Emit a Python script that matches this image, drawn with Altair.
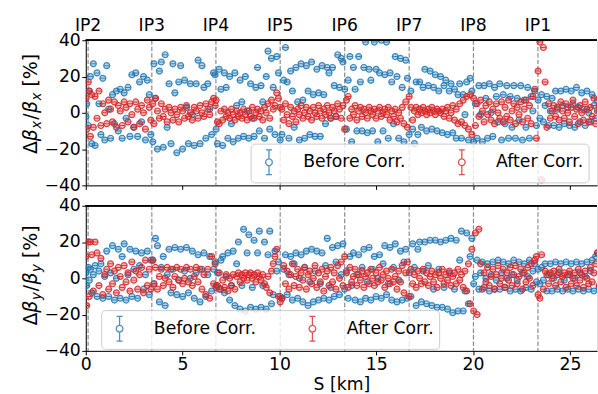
import altair as alt
import pandas as pd

# ---------------- data ----------------
S_KM = [
    0.01, 0.05, 0.13, 0.18, 0.24, 0.31, 0.39, 0.48, 0.58, 0.68, 0.78, 0.88, 0.98, 1.08, 1.18, 1.28, 1.38, 1.48, 1.58, 1.68, 1.78, 1.88, 1.98, 2.08, 2.18, 2.28, 2.38, 2.48, 2.58, 2.68, 2.78, 2.88, 2.98, 3.08, 3.18, 3.28, 3.36,
    3.46, 3.52, 3.60, 3.70, 3.80, 3.90, 4.00, 4.10, 4.20, 4.30, 4.40, 4.50, 4.60, 4.70, 4.80, 4.90, 5.00, 5.10, 5.20, 5.30, 5.40, 5.50, 5.60, 5.70, 5.80, 5.90, 6.00, 6.10, 6.20, 6.30, 6.40, 6.50, 6.60, 6.68, 6.73,
    6.80, 6.89, 6.98, 7.07, 7.16, 7.25, 7.34, 7.43, 7.52, 7.61, 7.70, 7.79, 7.88, 7.97, 8.06, 8.15, 8.24, 8.33, 8.42, 8.51, 8.60, 8.69, 8.78, 8.87, 8.96, 9.05, 9.14, 9.23, 9.32, 9.41, 9.50, 9.59, 9.68, 9.77, 9.86, 9.95, 10.04,
    10.13, 10.22, 10.31, 10.40, 10.49, 10.58, 10.67, 10.76, 10.85, 10.94, 11.03, 11.12, 11.21, 11.30, 11.39, 11.48, 11.57, 11.66, 11.75, 11.84, 11.93, 12.02, 12.11, 12.20, 12.29, 12.38, 12.47, 12.56, 12.65, 12.74, 12.83, 12.92, 13.01, 13.10, 13.19, 13.28, 13.37,
    13.46, 13.55, 13.64, 13.73, 13.82, 13.91, 14.00, 14.09, 14.18, 14.27, 14.36, 14.45, 14.54, 14.63, 14.72, 14.81, 14.90, 14.99, 15.08, 15.17, 15.26, 15.35, 15.44, 15.53, 15.62, 15.71, 15.80, 15.89, 15.98, 16.07, 16.16, 16.25, 16.34, 16.43, 16.52, 16.61, 16.70,
    16.79, 16.88, 16.97, 17.06, 17.15, 17.24, 17.33, 17.42, 17.51, 17.60, 17.69, 17.78, 17.87, 17.96, 18.05, 18.14, 18.23, 18.32, 18.41, 18.50, 18.59, 18.68, 18.77, 18.86, 18.95, 19.04, 19.13, 19.22, 19.31, 19.40, 19.49, 19.58, 19.67, 19.76, 19.85, 19.94, 20.03,
    20.12, 20.21, 20.30, 20.39, 20.48, 20.57, 20.66, 20.75, 20.84, 20.93, 21.02, 21.11, 21.20, 21.29, 21.38, 21.47, 21.56, 21.65, 21.74, 21.83, 21.92, 22.01, 22.10, 22.19, 22.28, 22.37, 22.46, 22.55, 22.64, 22.73, 22.82, 22.91, 23.00, 23.09, 23.18, 23.27, 23.36,
    23.45, 23.54, 23.63, 23.72, 23.81, 23.90, 23.99, 24.08, 24.17, 24.26, 24.35, 24.44, 24.53, 24.62, 24.71, 24.80, 24.89, 24.98, 25.07, 25.16, 25.25, 25.34, 25.43, 25.52, 25.61, 25.70, 25.79, 25.88, 25.97, 26.06, 26.15, 26.24, 26.33, 26.42, 26.51, 26.60,
]

# horizontal beta-beating [%], before correction
DBX_BEFORE = [
    -2, 5, -7, 12, 20, -17, 27, -18, 22, 5, -12, 19, -15, 26, 2, -14, 10, -6, 12, -10, 13, -14, 11, -3, 14, -13, 21, -8, 22, -13, 17, -5, 20, -15, 18, 10, -12,
    -16, 27, 8, -20, 23, 28, -19, 32, -8, 16, -17, 27, 11, -22, 17, 26, -20, 18, 3, -17, 16, -1, -18, 16, 29, -17, 26, 14, -14, 16, 2, -12, 22, 21, -9,
    -17, 24, 13, -18, 22, 14, -14, 20, -6, -16, 22, 4, -14, 18, 6, -13, 20, 1, -14, 16, -3, -13, 14, 25, -10, 15, 6, -14, 20, 34, -9, 30, 14, -12, 31, 22, -15,
    -12, 18, 36, 17, -14, 23, 12, -8, 25, 6, -15, 27, 7, -14, 26, 12, -12, 28, 10, -13, 24, 11, -13, 26, 10, -6, 25, 22, -3, 25, 15, -2, 32, 14, 30, 28, 13,
    -9, 18, 31, -16, 25, 13, -10, 31, 17, -10, 25, 39, -11, 24, 18, -10, 39, 24, -16, 22, 40, -10, 21, 39, -14, 22, 17, -6, 31, 20, -14, 30, 14, -16, 29, 19, -12,
    12, -9, -17, 17, -12, 17, -8, 14, 24, -10, 15, 23, -9, 14, 21, -10, 12, 20, -11, 15, 18, -12, 12, 16, -11, 13, -14, 10, 16, -14, 10, -1, 17, -15, 19, 12, -16,
    5, -14, 15, -1, -16, 15, 8, -14, 16, 0, -13, 14, 9, -5, 16, -15, 10, -6, 15, -14, 9, -8, 15, -14, 8, -4, 15, -15, 7, -8, 14, -14, 9, 1, 12, -7, 7,
    -3, 10, -5, 4, 9, -7, 1, 8, -7, 12, 2, -8, 12, 4, -6, 13, 3, -7, 12, 5, -8, 14, 3, -5, 11, 2, -7, 12, 0, -5, 10, 4, -3, 7, 1, -4,
]
# horizontal beta-beating [%], after correction
DBX_AFTER = [
    8, -9, 17, 12, -13, 10, -8, 9, -3, 12, -7, 5, 0, -6, 7, 2, -5, 6, -8, 4, 1, -7, 6, 3, -5, 5, -1, -8, 6, 2, -6, 4, 0, -9, 7, 3, -4,
    5, -6, 8, 1, -3, 5, -2, 2, -5, 3, 0, -4, 2, -1, -5, 3, 1, -3, 4, -2, 0, -4, 3, 1, -3, 4, 0, -2, 5, 2, -1, 6, 8, 4, 7,
    -5, -6, 1, -4, 2, -2, 0, -3, 2, -1, -4, 1, -2, 0, -3, 2, -1, -4, 1, -2, 3, -3, 0, 2, -2, 1, -4, 3, 0, 5, -3, 7, 2, 4, 11, 8, 3,
    2, -4, 5, -1, -6, 3, -2, 1, -5, 2, -1, 4, -3, 0, 3, -2, 1, -4, 3, 0, -2, 4, 1, -3, 2, -1, 4, 0, -3, 3, 1, -2, 5, 2, -3, 4, -9,
    7, 9, -3, 2, -1, 4, -4, 1, 3, -2, 2, 0, -3, 3, 1, -1, 2, -3, 1, 3, -2, 0, 2, -1, 3, -4, 1, -2, 2, -5, 0, -3, 3, -6, 6, -8, 9,
    3, -4, 1, 3, -1, 2, 0, 3, 1, -1, 2, 0, 3, 1, -1, 2, 1, 0, 2, -2, 1, 3, -3, 0, 4, -4, 2, -6, 5, -5, 7, -7, 9, -9, 10, -12, 8,
    -7, 5, -2, 7, 1, -5, 4, -1, 6, -4, 2, -6, 5, 0, -3, 6, -5, 3, -2, 7, -4, 1, 5, -6, 3, -1, 6, -5, 2, 7, -3, 4, -6, 9, 13, -14, 23,
    39, -37, 36, 17, -8, 5, -3, 1, 4, -2, 3, -4, 6, 1, -3, 5, 0, -5, 3, 7, -2, 2, -6, 4, 0, -4, 6, 2, -5, 3, -2, 8, -6, 1, 4, -3,
]
# vertical beta-beating [%], before correction
DBY_BEFORE = [
    3, -4, 6, -1, 5, -8, 2, 7, -10, 4, 8, -11, 1, 15, -10, 3, 18, -12, 0, 16, -11, 12, 19, -12, 2, 16, -10, 5, 15, -11, 7, 14, -6, 2, 15, -9, 10,
    10, -3, 22, 18, -13, 6, 12, -15, 2, 16, -8, 5, 17, -9, -1, 16, -10, 4, 17, -8, 0, 15, -11, 3, 13, -13, 5, 14, -10, 2, 12, -7, 5, 9, -4,
    3, -6, 10, 12, -8, 1, 14, -12, -4, 15, -15, 8, 20, -17, -4, 27, -18, 14, 24, -16, -5, 21, -17, 14, 26, -16, -4, 20, -17, 13, 26, -14, -9, 15, 4, 9, -10,
    -11, 5, 13, -9, 2, 12, -12, 8, 14, -11, 0, 13, -13, 6, 15, -15, -2, 16, -13, 4, 15, -12, -3, 14, -11, 7, 22, -12, -5, 17, -10, 9, 18, -9, 2, 19, -6,
    4, -11, 12, -4, 14, -12, 2, 13, -13, 6, 16, -11, -2, 17, -12, 5, 12, -10, 0, 13, -11, 8, 18, -9, -3, 17, -12, 6, 19, -13, -1, 15, -12, 9, 16, -11, 3,
    -10, 19, 6, -15, 16, 20, -13, 4, 20, -14, 7, 21, -15, -6, 21, -16, 5, 20, -16, -5, 21, -17, 3, 22, -19, -6, 21, -18, 10, 26, -18, -7, 25, -14, 12, 22, -3,
    1, 10, -6, 3, 9, -5, 0, 8, -7, 2, 9, -6, -1, 10, -6, 3, 9, -5, 0, 8, -7, 2, 10, -6, -1, 9, -7, 3, 8, -5, 1, 10, -6, 4, 8, -2, 5,
    -3, 6, -1, 8, -7, 2, 8, -7, 0, 9, -6, 3, 8, -7, -1, 9, -6, 2, 8, -7, 0, 9, -6, 3, 8, -7, 1, 9, -6, 4, 10, -7, 12, 14, -5, 6,
]
# vertical beta-beating [%], after correction
DBY_AFTER = [
    12, -15, 20, -10, 20, 13, -7, 20, 14, -4, 11, -9, 2, 5, -6, 8, -3, 4, -8, 6, 1, -5, 7, -2, 3, -7, 9, -1, 4, -6, 2, 6, -8, 10, -4, 5, -6,
    10, -3, 6, -6, 1, 5, -4, 0, 6, -2, 5, -5, 1, 6, -1, 5, -3, 0, 6, -2, 5, -4, 1, 6, -2, 5, -6, 2, -9, 5, -11, 12, -3, 8, -5,
    -4, 3, -6, -1, -5, 2, -7, 0, -4, 2, -6, 1, 3, -2, 2, 0, 3, -1, 2, 3, 0, 2, -2, 3, 1, -1, 2, -3, -5, 1, -8, 4, 8, 12, 16, -10, -13,
    -11, 7, -3, 4, -6, 2, 8, -4, 1, 5, -5, 3, -1, 6, -6, 2, 4, -3, 0, 7, -5, 3, -2, 5, -7, 1, 4, -4, 6, -2, 3, -6, 7, 0, 9, -4, 12,
    3, -5, 6, -2, 1, 5, -4, 2, -1, 4, -5, 1, 3, -3, 5, 0, -4, 3, -2, 6, -1, 2, -5, 4, 0, -3, 5, -2, 1, -6, 4, -2, 7, -8, 3, 9, -10,
    5, -3, 2, -5, 4, 0, -3, 5, -2, 3, -4, 1, 4, -2, 2, -5, 3, 0, 5, -3, 2, -1, 4, -4, 1, 3, -3, 5, -1, 2, -5, 4, -7, 8, -14, 16, -18,
    25, -20, 27, 8, -6, 3, -2, 6, -4, 1, 5, -6, 2, 7, -3, 0, 5, -5, 3, -1, 6, -4, 2, 7, -3, 1, 5, -6, 3, -2, 6, 0, 8, -4, 10, 12, -9,
    -11, 13, -6, 4, 2, -3, 3, 0, 4, -4, 2, 5, -2, 1, 3, -5, 2, 4, -3, 0, 3, -4, 5, -1, 2, -5, 4, 0, -3, 6, -2, 3, 8, 14, -4, 2,
]

IP_NAMES = ["IP2", "IP3", "IP4", "IP5", "IP6", "IP7", "IP8", "IP1"]
IP_S = [0.12, 3.41, 6.72, 10.04, 13.37, 16.70, 20.02, 23.35]
X_TICKS = [0, 5, 10, 15, 20, 25]
Y_TICKS = [-40, -20, 0, 20, 40]
SERIES = ["Before Corr.", "After Corr."]
COLORS = ["#1f77b4", "#d62728"]

# ---------------- styling / layout ----------------
FONT = "DejaVu Sans"
FS = 17.33
TFS = 19.0
W = 514.3
H = 146
XMAX = 26.4
ERRBAR = ("M0,-1L0,-0.27M0,0.27L0,1M-0.24,-1L0.24,-1M-0.24,1L0.24,1"
          "M0.27,0A0.27,0.27,0,1,1,-0.27,0A0.27,0.27,0,1,1,0.27,0Z")

n = min(len(S_KM), len(DBX_BEFORE), len(DBX_AFTER), len(DBY_BEFORE), len(DBY_AFTER))
CSCALE = alt.Scale(domain=SERIES, range=COLORS)


def x_enc(labels):
    return alt.X(
        "S:Q",
        scale=alt.Scale(domain=[0, XMAX], nice=False, zero=False),
        axis=alt.Axis(values=X_TICKS, labels=labels, title="S [km]" if labels else None,
                      format="d", tickSize=4, labelPadding=0.5, titlePadding=3.5,
                      grid=False, domainColor="black", tickColor="black",
                      labelColor="black", titleColor="black", labelFont=FONT,
                      titleFont=FONT, labelFontSize=FS, titleFontSize=FS,
                      titleFontWeight="normal", labelFlush=False, labelOverlap=False),
    )


def y_enc():
    return alt.Y(
        "v:Q",
        scale=alt.Scale(domain=[-40, 40], nice=False),
        axis=alt.Axis(values=Y_TICKS, title=None, tickSize=4, labelPadding=1.5,
                      grid=False, domainColor="black", tickColor="black",
                      labelColor="black", labelFont=FONT, labelFontSize=FS,
                      labelFlush=False, labelOverlap=False),
    )


def color_enc(lx, ly):
    return alt.Color(
        "series:N",
        scale=CSCALE,
        legend=alt.Legend(
            orient="none", legendX=lx, legendY=ly, direction="horizontal", columns=2,
            title=None, labelFont=FONT, labelFontSize=FS, labelColor="black",
            symbolType=ERRBAR, symbolSize=625, symbolStrokeWidth=1.3,
            symbolOpacity=0.8,
            labelOffset=21, columnPadding=43, padding=5, cornerRadius=4,
            strokeColor="#cccccc", fillColor="rgba(255,255,255,0.8)",
        ),
    )


def y_title(sub, center):
    sub_fs = TFS * 0.7
    parts = [
        ("Δ", TFS, "normal", 0.684, 0.0),
        ("β", TFS, "italic", 0.637, 0.5),
        (sub, sub_fs, "italic", 0.592, 1.0),
        ("/", TFS, "normal", 0.337, 0.5),
        ("β", TFS, "italic", 0.637, 0.5),
        (sub, sub_fs, "italic", 0.592, 0.318 * TFS),
        ("[%]", TFS, "normal", 1.536, 0.0),
    ]
    total = sum(p[3] * p[1] + p[4] for p in parts)
    pos = center + total / 2
    one = pd.DataFrame({"k": [0]})
    layers = []
    for txt, fs, style, em, gap in parts:
        xb = -45.0 if fs < TFS else -48.7
        layers.append(
            alt.Chart(one).mark_text(
                text=txt, angle=270, align="left", baseline="alphabetic",
                font=FONT, fontSize=fs, fontStyle=style, color="black",
            ).encode(x=alt.value(xb), y=alt.value(pos))
        )
        pos -= em * fs + gap
    return layers


def panel(before, after, sub, labels, lx, ly, show_ip, title_center):
    dfb = pd.DataFrame({"S": S_KM[:n], "v": before[:n], "series": SERIES[0]})
    dfa = pd.DataFrame({"S": S_KM[:n], "v": after[:n], "series": SERIES[1]})
    ips = pd.DataFrame({"S": IP_S, "name": IP_NAMES})
    X = x_enc(labels)
    Y = y_enc()

    rules = alt.Chart(ips).mark_rule(
        color="#808080", strokeDash=[4.5, 2], strokeWidth=1.2, opacity=0.9
    ).encode(x=X)

    def pts(df, col):
        f = alt.Chart(df).mark_point(
            shape="circle", size=36, filled=True, color=col, opacity=0.32,
            strokeWidth=0, clip=True,
        ).encode(x=X, y=Y)
        p = alt.Chart(df).mark_point(
            shape="circle", size=36, filled=False, opacity=0.85, strokeWidth=1.2, clip=True,
        ).encode(x=X, y=Y, color=color_enc(lx, ly))
        t = alt.Chart(df).mark_tick(
            orient="horizontal", size=5, thickness=1, color=col, opacity=0.85, clip=True,
        ).encode(x=X, y=Y)
        return [f, p, t]

    top_spine = alt.Chart(ips).mark_rule(color="black", strokeWidth=1).encode(
        x=alt.value(0), x2=alt.value(W), y=alt.value(0)
    )
    layers = [rules] + pts(dfb, COLORS[0]) + pts(dfa, COLORS[1]) + [top_spine]
    if show_ip:
        layers.append(
            alt.Chart(ips).mark_text(
                font=FONT, fontSize=FS, baseline="alphabetic", align="center", color="black"
            ).encode(x=X, y=alt.value(-9), text="name:N")
        )
    layers += y_title(sub, title_center)
    return alt.layer(*layers).properties(width=W, height=H)


top = panel(DBX_BEFORE, DBX_AFTER, "x", False, 165.8, 104, True, 66)
bottom = panel(DBY_BEFORE, DBY_AFTER, "y", True, 15.5, 105, False, 72)

chart = (
    alt.vconcat(top, bottom, spacing=1.5)
    .resolve_legend(color="independent")
    .properties(padding={"left": 21.3, "top": 15.3, "right": 0, "bottom": 0})
    .configure_view(stroke=None)
    .configure(font=FONT)
)

chart.save("out.html", embed_options={"renderer": "svg", "actions": False})
